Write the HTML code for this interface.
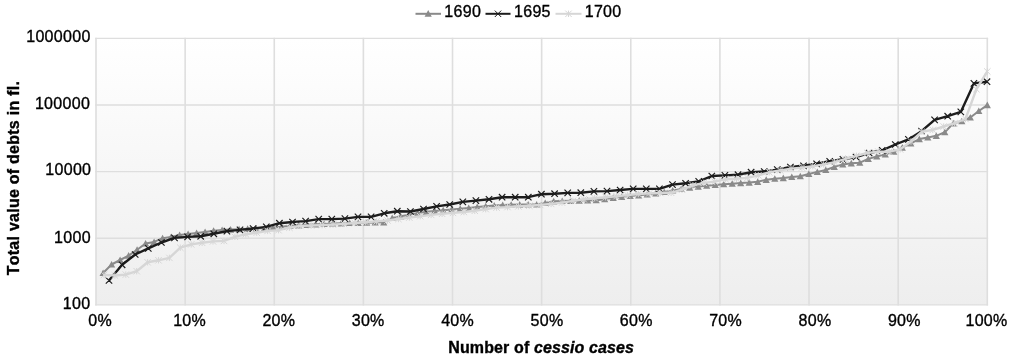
<!DOCTYPE html>
<html><head><meta charset="utf-8"><title>Chart</title><style>html,body{margin:0;padding:0;background:#fff}body{width:1012px;height:361px;position:relative;overflow:hidden;font-family:"Liberation Sans",sans-serif}</style></head><body>
<svg width="1012" height="361" viewBox="0 0 1012 361" style="position:absolute;left:0;top:0;will-change:transform">
<defs><linearGradient id="g" x1="0" y1="0" x2="0" y2="1"><stop offset="0" stop-color="#ffffff"/><stop offset="1" stop-color="#eeeeee"/></linearGradient><clipPath id="cp"><rect x="90.0" y="32.4" width="903.3" height="278.5"/></clipPath></defs>
<rect x="0" y="0" width="1012" height="361" fill="#fff"/>
<rect x="96.0" y="38.4" width="891.3" height="266.5" fill="url(#g)"/>
<path d="M96.00 37.7V305.6M185.13 37.7V305.6M274.26 37.7V305.6M363.39 37.7V305.6M452.52 37.7V305.6M541.65 37.7V305.6M630.78 37.7V305.6M719.91 37.7V305.6M809.04 37.7V305.6M898.17 37.7V305.6M987.30 37.7V305.6" stroke="#dedede" stroke-width="1.6" fill="none"/>
<path d="M95.2 38.40H988.1M95.2 105.03H988.1M95.2 171.65H988.1M95.2 238.28H988.1M95.2 304.90H988.1" stroke="#dedede" stroke-width="1.4" fill="none"/>
<g>
<path d="M103.1 273.0L111.6 264.5L120.1 260.0L128.6 255.6L137.1 249.7L145.6 243.5L154.1 241.9L162.6 238.2L171.1 236.9L179.6 235.1L188.1 234.0L196.6 232.9L205.1 231.9L213.6 230.7L222.1 230.1L230.6 229.6L239.1 229.2L247.6 228.8L256.1 228.4L264.6 228.0L273.1 227.8L281.6 226.8L290.1 225.8L298.6 225.3L307.1 224.8L315.6 224.3L324.1 223.9L332.7 223.6L341.2 223.3L349.7 223.0L358.2 222.8L366.7 222.7L375.2 222.5L383.7 222.3L392.2 217.9L400.7 216.3L409.2 214.7L417.7 213.1L426.2 211.8L434.7 211.0L443.2 210.2L451.7 209.4L460.2 208.7L468.7 208.0L477.2 207.1L485.7 206.3L494.2 205.6L502.7 205.0L511.2 204.7L519.7 204.6L528.2 204.5L536.7 204.4L545.2 203.0L553.7 201.3L562.2 200.9L570.7 200.8L579.2 200.6L587.7 200.4L596.2 200.2L604.7 199.2L613.2 197.8L621.7 196.8L630.2 196.0L638.7 195.3L647.2 194.5L655.7 193.3L664.2 191.9L672.7 190.5L681.2 189.0L689.7 187.6L698.2 186.6L706.7 185.7L715.2 184.9L723.7 184.2L732.2 183.7L740.7 183.1L749.2 182.6L757.7 181.8L766.2 179.8L774.8 178.7L783.3 178.1L791.8 177.0L800.3 176.2L808.8 174.0L817.3 171.9L825.8 170.0L834.3 166.9L842.8 164.4L851.3 163.3L859.8 162.7L868.3 158.9L876.8 156.5L885.3 154.3L893.8 151.7L902.3 147.6L910.8 143.3L919.3 139.1L927.8 137.5L936.3 135.8L944.8 132.2L953.3 123.3L961.8 121.2L970.3 117.5L978.8 111.0L987.3 105.1" stroke="#8a8a8a" stroke-width="2" fill="none" stroke-linejoin="round"/>
<path d="M103.1 269.5L106.7 276.1L99.5 276.1ZM111.6 261.0L115.2 267.6L108.0 267.6ZM120.1 256.5L123.7 263.1L116.5 263.1ZM128.6 252.1L132.2 258.7L125.0 258.7ZM137.1 246.2L140.7 252.8L133.5 252.8ZM145.6 240.0L149.2 246.6L142.0 246.6ZM154.1 238.4L157.7 245.0L150.5 245.0ZM162.6 234.7L166.2 241.3L159.0 241.3ZM171.1 233.4L174.7 240.0L167.5 240.0ZM179.6 231.6L183.2 238.2L176.0 238.2ZM188.1 230.5L191.7 237.1L184.5 237.1ZM196.6 229.4L200.2 236.0L193.0 236.0ZM205.1 228.4L208.7 235.0L201.5 235.0ZM213.6 227.2L217.2 233.8L210.0 233.8ZM222.1 226.6L225.7 233.2L218.5 233.2ZM230.6 226.1L234.2 232.7L227.0 232.7ZM239.1 225.7L242.7 232.3L235.5 232.3ZM247.6 225.3L251.2 231.9L244.0 231.9ZM256.1 224.9L259.7 231.5L252.5 231.5ZM264.6 224.5L268.2 231.1L261.0 231.1ZM273.1 224.3L276.7 230.9L269.5 230.9ZM281.6 223.3L285.2 229.9L278.0 229.9ZM290.1 222.3L293.7 228.9L286.5 228.9ZM298.6 221.8L302.2 228.4L295.0 228.4ZM307.1 221.3L310.7 227.9L303.5 227.9ZM315.6 220.8L319.2 227.4L312.0 227.4ZM324.1 220.4L327.8 227.0L320.5 227.0ZM332.7 220.1L336.3 226.7L329.1 226.7ZM341.2 219.8L344.8 226.4L337.6 226.4ZM349.7 219.5L353.3 226.1L346.1 226.1ZM358.2 219.3L361.8 225.9L354.6 225.9ZM366.7 219.2L370.3 225.8L363.1 225.8ZM375.2 219.0L378.8 225.6L371.6 225.6ZM383.7 218.8L387.3 225.4L380.1 225.4ZM392.2 214.4L395.8 221.0L388.6 221.0ZM400.7 212.8L404.3 219.4L397.1 219.4ZM409.2 211.2L412.8 217.8L405.6 217.8ZM417.7 209.6L421.3 216.2L414.1 216.2ZM426.2 208.3L429.8 214.9L422.6 214.9ZM434.7 207.5L438.3 214.1L431.1 214.1ZM443.2 206.7L446.8 213.3L439.6 213.3ZM451.7 205.9L455.3 212.5L448.1 212.5ZM460.2 205.2L463.8 211.8L456.6 211.8ZM468.7 204.5L472.3 211.1L465.1 211.1ZM477.2 203.6L480.8 210.2L473.6 210.2ZM485.7 202.8L489.3 209.4L482.1 209.4ZM494.2 202.1L497.8 208.7L490.6 208.7ZM502.7 201.5L506.3 208.1L499.1 208.1ZM511.2 201.2L514.8 207.8L507.6 207.8ZM519.7 201.1L523.3 207.7L516.1 207.7ZM528.2 201.0L531.8 207.6L524.6 207.6ZM536.7 200.9L540.3 207.5L533.1 207.5ZM545.2 199.5L548.8 206.1L541.6 206.1ZM553.7 197.8L557.3 204.4L550.1 204.4ZM562.2 197.4L565.8 204.0L558.6 204.0ZM570.7 197.3L574.3 203.9L567.1 203.9ZM579.2 197.1L582.8 203.7L575.6 203.7ZM587.7 196.9L591.3 203.5L584.1 203.5ZM596.2 196.7L599.8 203.3L592.6 203.3ZM604.7 195.7L608.3 202.3L601.1 202.3ZM613.2 194.3L616.8 200.9L609.6 200.9ZM621.7 193.3L625.3 199.9L618.1 199.9ZM630.2 192.5L633.8 199.1L626.6 199.1ZM638.7 191.8L642.3 198.4L635.1 198.4ZM647.2 191.0L650.8 197.6L643.6 197.6ZM655.7 189.8L659.3 196.4L652.1 196.4ZM664.2 188.4L667.8 195.0L660.6 195.0ZM672.7 187.0L676.3 193.6L669.1 193.6ZM681.2 185.5L684.8 192.1L677.6 192.1ZM689.7 184.1L693.3 190.7L686.1 190.7ZM698.2 183.1L701.8 189.7L694.6 189.7ZM706.7 182.2L710.3 188.8L703.1 188.8ZM715.2 181.4L718.8 188.0L711.6 188.0ZM723.7 180.7L727.3 187.3L720.1 187.3ZM732.2 180.2L735.8 186.8L728.6 186.8ZM740.7 179.6L744.3 186.2L737.1 186.2ZM749.2 179.1L752.8 185.7L745.6 185.7ZM757.7 178.3L761.3 184.9L754.1 184.9ZM766.2 176.3L769.8 182.9L762.6 182.9ZM774.8 175.2L778.4 181.8L771.2 181.8ZM783.3 174.6L786.9 181.2L779.7 181.2ZM791.8 173.5L795.4 180.1L788.2 180.1ZM800.3 172.7L803.9 179.3L796.7 179.3ZM808.8 170.5L812.4 177.1L805.2 177.1ZM817.3 168.4L820.9 175.0L813.7 175.0ZM825.8 166.5L829.4 173.1L822.2 173.1ZM834.3 163.4L837.9 170.0L830.7 170.0ZM842.8 160.9L846.4 167.5L839.2 167.5ZM851.3 159.8L854.9 166.4L847.7 166.4ZM859.8 159.2L863.4 165.8L856.2 165.8ZM868.3 155.4L871.9 162.0L864.7 162.0ZM876.8 153.0L880.4 159.6L873.2 159.6ZM885.3 150.8L888.9 157.4L881.7 157.4ZM893.8 148.2L897.4 154.8L890.2 154.8ZM902.3 144.1L905.9 150.7L898.7 150.7ZM910.8 139.8L914.4 146.4L907.2 146.4ZM919.3 135.6L922.9 142.2L915.7 142.2ZM927.8 134.0L931.4 140.6L924.2 140.6ZM936.3 132.3L939.9 138.9L932.7 138.9ZM944.8 128.7L948.4 135.3L941.2 135.3ZM953.3 119.8L956.9 126.4L949.7 126.4ZM961.8 117.7L965.4 124.3L958.2 124.3ZM970.3 114.0L973.9 120.6L966.7 120.6ZM978.8 107.5L982.4 114.1L975.2 114.1ZM987.3 101.6L990.9 108.2L983.7 108.2Z" fill="#8a8a8a"/>
<path d="M109.0 280.5L122.1 264.8L135.2 254.5L148.3 248.4L161.4 242.5L174.5 237.9L187.6 236.9L200.7 236.3L213.8 233.8L226.9 231.1L240.0 229.9L253.1 228.5L266.3 226.9L279.4 223.2L292.5 222.0L305.6 221.1L318.7 219.1L331.8 219.1L344.9 218.6L358.0 216.9L371.1 216.9L384.2 213.3L397.3 211.2L410.4 211.5L423.5 209.0L436.6 206.4L449.7 204.5L462.8 201.9L475.9 200.6L489.0 199.3L502.1 197.2L515.2 197.2L528.3 197.2L541.4 194.2L554.6 193.7L567.7 192.9L580.8 192.7L593.9 191.4L607.0 191.1L620.1 190.0L633.2 188.9L646.3 188.9L659.4 188.9L672.5 184.6L685.6 183.3L698.7 181.4L711.8 176.0L724.9 175.4L738.0 174.7L751.1 172.2L764.2 171.5L777.3 169.6L790.4 167.0L803.5 165.8L816.6 163.8L829.7 161.3L842.9 159.3L856.0 157.0L869.1 153.0L882.2 150.3L895.3 144.5L908.4 139.4L921.5 131.2L934.6 119.9L947.7 116.2L960.8 111.9L973.9 83.4L987.0 81.7" stroke="#1c1c1c" stroke-width="2.4" fill="none" stroke-linejoin="round"/>
<path d="M105.8 277.3L112.2 283.7M105.8 283.7L112.2 277.3M118.9 261.6L125.3 268.0M118.9 268.0L125.3 261.6M132.0 251.3L138.4 257.7M132.0 257.7L138.4 251.3M145.1 245.2L151.5 251.6M145.1 251.6L151.5 245.2M158.2 239.3L164.6 245.7M158.2 245.7L164.6 239.3M171.3 234.7L177.7 241.1M171.3 241.1L177.7 234.7M184.4 233.7L190.8 240.1M184.4 240.1L190.8 233.7M197.5 233.1L203.9 239.5M197.5 239.5L203.9 233.1M210.6 230.6L217.0 237.0M210.6 237.0L217.0 230.6M223.7 227.9L230.1 234.3M223.7 234.3L230.1 227.9M236.8 226.7L243.2 233.1M236.8 233.1L243.2 226.7M249.9 225.3L256.3 231.7M249.9 231.7L256.3 225.3M263.1 223.7L269.5 230.1M263.1 230.1L269.5 223.7M276.2 220.0L282.6 226.4M276.2 226.4L282.6 220.0M289.3 218.8L295.7 225.2M289.3 225.2L295.7 218.8M302.4 217.9L308.8 224.3M302.4 224.3L308.8 217.9M315.5 215.9L321.9 222.3M315.5 222.3L321.9 215.9M328.6 215.9L335.0 222.3M328.6 222.3L335.0 215.9M341.7 215.4L348.1 221.8M341.7 221.8L348.1 215.4M354.8 213.7L361.2 220.1M354.8 220.1L361.2 213.7M367.9 213.7L374.3 220.1M367.9 220.1L374.3 213.7M381.0 210.1L387.4 216.5M381.0 216.5L387.4 210.1M394.1 208.0L400.5 214.4M394.1 214.4L400.5 208.0M407.2 208.3L413.6 214.7M407.2 214.7L413.6 208.3M420.3 205.8L426.7 212.2M420.3 212.2L426.7 205.8M433.4 203.2L439.8 209.6M433.4 209.6L439.8 203.2M446.5 201.3L452.9 207.7M446.5 207.7L452.9 201.3M459.6 198.7L466.0 205.1M459.6 205.1L466.0 198.7M472.7 197.4L479.1 203.8M472.7 203.8L479.1 197.4M485.8 196.1L492.2 202.5M485.8 202.5L492.2 196.1M498.9 194.0L505.3 200.4M498.9 200.4L505.3 194.0M512.0 194.0L518.4 200.4M512.0 200.4L518.4 194.0M525.1 194.0L531.5 200.4M525.1 200.4L531.5 194.0M538.2 191.0L544.6 197.4M538.2 197.4L544.6 191.0M551.4 190.5L557.8 196.9M551.4 196.9L557.8 190.5M564.5 189.7L570.9 196.1M564.5 196.1L570.9 189.7M577.6 189.5L584.0 195.9M577.6 195.9L584.0 189.5M590.7 188.2L597.1 194.6M590.7 194.6L597.1 188.2M603.8 187.9L610.2 194.3M603.8 194.3L610.2 187.9M616.9 186.8L623.3 193.2M616.9 193.2L623.3 186.8M630.0 185.7L636.4 192.1M630.0 192.1L636.4 185.7M643.1 185.7L649.5 192.1M643.1 192.1L649.5 185.7M656.2 185.7L662.6 192.1M656.2 192.1L662.6 185.7M669.3 181.4L675.7 187.8M669.3 187.8L675.7 181.4M682.4 180.1L688.8 186.5M682.4 186.5L688.8 180.1M695.5 178.2L701.9 184.6M695.5 184.6L701.9 178.2M708.6 172.8L715.0 179.2M708.6 179.2L715.0 172.8M721.7 172.2L728.1 178.6M721.7 178.6L728.1 172.2M734.8 171.5L741.2 177.9M734.8 177.9L741.2 171.5M747.9 169.0L754.3 175.4M747.9 175.4L754.3 169.0M761.0 168.3L767.4 174.7M761.0 174.7L767.4 168.3M774.1 166.4L780.5 172.8M774.1 172.8L780.5 166.4M787.2 163.8L793.6 170.2M787.2 170.2L793.6 163.8M800.3 162.6L806.7 169.0M800.3 169.0L806.7 162.6M813.4 160.6L819.8 167.0M813.4 167.0L819.8 160.6M826.5 158.1L832.9 164.5M826.5 164.5L832.9 158.1M839.7 156.1L846.1 162.5M839.7 162.5L846.1 156.1M852.8 153.8L859.2 160.2M852.8 160.2L859.2 153.8M865.9 149.8L872.3 156.2M865.9 156.2L872.3 149.8M879.0 147.1L885.4 153.5M879.0 153.5L885.4 147.1M892.1 141.3L898.5 147.7M892.1 147.7L898.5 141.3M905.2 136.2L911.6 142.6M905.2 142.6L911.6 136.2M918.3 128.0L924.7 134.4M918.3 134.4L924.7 128.0M931.4 116.7L937.8 123.1M931.4 123.1L937.8 116.7M944.5 113.0L950.9 119.4M944.5 119.4L950.9 113.0M957.6 108.7L964.0 115.1M957.6 115.1L964.0 108.7M970.7 80.2L977.1 86.6M970.7 86.6L977.1 80.2M983.8 78.5L990.2 84.9M983.8 84.9L990.2 78.5" stroke="#1c1c1c" stroke-width="1.2" fill="none"/>
<path d="M104.0 274.9L114.9 275.5L125.8 274.6L136.7 271.2L147.6 262.3L158.5 260.3L169.4 257.9L180.3 247.7L191.2 244.4L202.1 242.8L213.0 241.4L224.0 240.9L234.9 236.8L245.8 234.2L256.7 232.7L267.6 230.9L278.5 230.2L289.4 227.7L300.3 225.9L311.2 225.5L322.1 225.1L333.0 224.6L343.9 223.9L354.8 223.0L365.7 222.2L376.6 221.4L387.5 220.5L398.4 219.0L409.3 217.6L420.2 216.2L431.1 214.9L442.1 213.8L453.0 212.9L463.9 212.0L474.8 210.8L485.7 209.1L496.6 207.6L507.5 207.1L518.4 206.4L529.3 205.7L540.2 205.0L551.1 203.9L562.0 202.6L572.9 200.9L583.8 199.3L594.7 198.2L605.6 197.2L616.5 196.2L627.4 195.1L638.3 194.0L649.2 193.4L660.2 193.0L671.1 192.8L682.0 189.7L692.9 185.4L703.8 182.9L714.7 181.6L725.6 179.2L736.5 178.8L747.4 177.9L758.3 175.4L769.2 172.3L780.1 170.4L791.0 168.6L801.9 167.6L812.8 166.2L823.7 164.4L834.6 162.1L845.5 158.9L856.4 155.8L867.3 153.0L878.3 151.6L889.2 151.7L900.1 149.4L911.0 141.5L921.9 131.7L932.8 129.9L943.7 126.5L954.6 123.2L965.5 119.0L976.4 89.2L987.3 71.5" stroke="#d6d6d6" stroke-width="2.4" fill="none" stroke-linejoin="round"/>
<path d="M100.8 271.7L107.2 278.1M100.8 278.1L107.2 271.7M104.0 271.7L104.0 278.1M111.7 272.3L118.1 278.7M111.7 278.7L118.1 272.3M114.9 272.3L114.9 278.7M122.6 271.4L129.0 277.8M122.6 277.8L129.0 271.4M125.8 271.4L125.8 277.8M133.5 268.0L139.9 274.4M133.5 274.4L139.9 268.0M136.7 268.0L136.7 274.4M144.4 259.1L150.8 265.5M144.4 265.5L150.8 259.1M147.6 259.1L147.6 265.5M155.3 257.1L161.7 263.5M155.3 263.5L161.7 257.1M158.5 257.1L158.5 263.5M166.2 254.7L172.6 261.1M166.2 261.1L172.6 254.7M169.4 254.7L169.4 261.1M177.1 244.5L183.5 250.9M177.1 250.9L183.5 244.5M180.3 244.5L180.3 250.9M188.0 241.2L194.4 247.6M188.0 247.6L194.4 241.2M191.2 241.2L191.2 247.6M198.9 239.6L205.3 246.0M198.9 246.0L205.3 239.6M202.1 239.6L202.1 246.0M209.8 238.2L216.2 244.6M209.8 244.6L216.2 238.2M213.0 238.2L213.0 244.6M220.8 237.7L227.2 244.1M220.8 244.1L227.2 237.7M224.0 237.7L224.0 244.1M231.7 233.6L238.1 240.0M231.7 240.0L238.1 233.6M234.9 233.6L234.9 240.0M242.6 231.0L249.0 237.4M242.6 237.4L249.0 231.0M245.8 231.0L245.8 237.4M253.5 229.5L259.9 235.9M253.5 235.9L259.9 229.5M256.7 229.5L256.7 235.9M264.4 227.7L270.8 234.1M264.4 234.1L270.8 227.7M267.6 227.7L267.6 234.1M275.3 227.0L281.7 233.4M275.3 233.4L281.7 227.0M278.5 227.0L278.5 233.4M286.2 224.5L292.6 230.9M286.2 230.9L292.6 224.5M289.4 224.5L289.4 230.9M297.1 222.7L303.5 229.1M297.1 229.1L303.5 222.7M300.3 222.7L300.3 229.1M308.0 222.3L314.4 228.7M308.0 228.7L314.4 222.3M311.2 222.3L311.2 228.7M318.9 221.9L325.3 228.3M318.9 228.3L325.3 221.9M322.1 221.9L322.1 228.3M329.8 221.4L336.2 227.8M329.8 227.8L336.2 221.4M333.0 221.4L333.0 227.8M340.7 220.7L347.1 227.1M340.7 227.1L347.1 220.7M343.9 220.7L343.9 227.1M351.6 219.8L358.0 226.2M351.6 226.2L358.0 219.8M354.8 219.8L354.8 226.2M362.5 219.0L368.9 225.4M362.5 225.4L368.9 219.0M365.7 219.0L365.7 225.4M373.4 218.2L379.8 224.6M373.4 224.6L379.8 218.2M376.6 218.2L376.6 224.6M384.3 217.3L390.7 223.7M384.3 223.7L390.7 217.3M387.5 217.3L387.5 223.7M395.2 215.8L401.6 222.2M395.2 222.2L401.6 215.8M398.4 215.8L398.4 222.2M406.1 214.4L412.5 220.8M406.1 220.8L412.5 214.4M409.3 214.4L409.3 220.8M417.0 213.0L423.4 219.4M417.0 219.4L423.4 213.0M420.2 213.0L420.2 219.4M427.9 211.7L434.3 218.1M427.9 218.1L434.3 211.7M431.1 211.7L431.1 218.1M438.9 210.6L445.3 217.0M438.9 217.0L445.3 210.6M442.1 210.6L442.1 217.0M449.8 209.7L456.2 216.1M449.8 216.1L456.2 209.7M453.0 209.7L453.0 216.1M460.7 208.8L467.1 215.2M460.7 215.2L467.1 208.8M463.9 208.8L463.9 215.2M471.6 207.6L478.0 214.0M471.6 214.0L478.0 207.6M474.8 207.6L474.8 214.0M482.5 205.9L488.9 212.3M482.5 212.3L488.9 205.9M485.7 205.9L485.7 212.3M493.4 204.4L499.8 210.8M493.4 210.8L499.8 204.4M496.6 204.4L496.6 210.8M504.3 203.9L510.7 210.3M504.3 210.3L510.7 203.9M507.5 203.9L507.5 210.3M515.2 203.2L521.6 209.6M515.2 209.6L521.6 203.2M518.4 203.2L518.4 209.6M526.1 202.5L532.5 208.9M526.1 208.9L532.5 202.5M529.3 202.5L529.3 208.9M537.0 201.8L543.4 208.2M537.0 208.2L543.4 201.8M540.2 201.8L540.2 208.2M547.9 200.7L554.3 207.1M547.9 207.1L554.3 200.7M551.1 200.7L551.1 207.1M558.8 199.4L565.2 205.8M558.8 205.8L565.2 199.4M562.0 199.4L562.0 205.8M569.7 197.7L576.1 204.1M569.7 204.1L576.1 197.7M572.9 197.7L572.9 204.1M580.6 196.1L587.0 202.5M580.6 202.5L587.0 196.1M583.8 196.1L583.8 202.5M591.5 195.0L597.9 201.4M591.5 201.4L597.9 195.0M594.7 195.0L594.7 201.4M602.4 194.0L608.8 200.4M602.4 200.4L608.8 194.0M605.6 194.0L605.6 200.4M613.3 193.0L619.7 199.4M613.3 199.4L619.7 193.0M616.5 193.0L616.5 199.4M624.2 191.9L630.6 198.3M624.2 198.3L630.6 191.9M627.4 191.9L627.4 198.3M635.1 190.8L641.5 197.2M635.1 197.2L641.5 190.8M638.3 190.8L638.3 197.2M646.0 190.2L652.4 196.6M646.0 196.6L652.4 190.2M649.2 190.2L649.2 196.6M657.0 189.8L663.4 196.2M657.0 196.2L663.4 189.8M660.2 189.8L660.2 196.2M667.9 189.6L674.3 196.0M667.9 196.0L674.3 189.6M671.1 189.6L671.1 196.0M678.8 186.5L685.2 192.9M678.8 192.9L685.2 186.5M682.0 186.5L682.0 192.9M689.7 182.2L696.1 188.6M689.7 188.6L696.1 182.2M692.9 182.2L692.9 188.6M700.6 179.7L707.0 186.1M700.6 186.1L707.0 179.7M703.8 179.7L703.8 186.1M711.5 178.4L717.9 184.8M711.5 184.8L717.9 178.4M714.7 178.4L714.7 184.8M722.4 176.0L728.8 182.4M722.4 182.4L728.8 176.0M725.6 176.0L725.6 182.4M733.3 175.6L739.7 182.0M733.3 182.0L739.7 175.6M736.5 175.6L736.5 182.0M744.2 174.7L750.6 181.1M744.2 181.1L750.6 174.7M747.4 174.7L747.4 181.1M755.1 172.2L761.5 178.6M755.1 178.6L761.5 172.2M758.3 172.2L758.3 178.6M766.0 169.1L772.4 175.5M766.0 175.5L772.4 169.1M769.2 169.1L769.2 175.5M776.9 167.2L783.3 173.6M776.9 173.6L783.3 167.2M780.1 167.2L780.1 173.6M787.8 165.4L794.2 171.8M787.8 171.8L794.2 165.4M791.0 165.4L791.0 171.8M798.7 164.4L805.1 170.8M798.7 170.8L805.1 164.4M801.9 164.4L801.9 170.8M809.6 163.0L816.0 169.4M809.6 169.4L816.0 163.0M812.8 163.0L812.8 169.4M820.5 161.2L826.9 167.6M820.5 167.6L826.9 161.2M823.7 161.2L823.7 167.6M831.4 158.9L837.8 165.3M831.4 165.3L837.8 158.9M834.6 158.9L834.6 165.3M842.3 155.7L848.7 162.1M842.3 162.1L848.7 155.7M845.5 155.7L845.5 162.1M853.2 152.6L859.6 159.0M853.2 159.0L859.6 152.6M856.4 152.6L856.4 159.0M864.1 149.8L870.5 156.2M864.1 156.2L870.5 149.8M867.3 149.8L867.3 156.2M875.1 148.4L881.5 154.8M875.1 154.8L881.5 148.4M878.3 148.4L878.3 154.8M886.0 148.5L892.4 154.9M886.0 154.9L892.4 148.5M889.2 148.5L889.2 154.9M896.9 146.2L903.3 152.6M896.9 152.6L903.3 146.2M900.1 146.2L900.1 152.6M907.8 138.3L914.2 144.7M907.8 144.7L914.2 138.3M911.0 138.3L911.0 144.7M918.7 128.5L925.1 134.9M918.7 134.9L925.1 128.5M921.9 128.5L921.9 134.9M929.6 126.7L936.0 133.1M929.6 133.1L936.0 126.7M932.8 126.7L932.8 133.1M940.5 123.3L946.9 129.7M940.5 129.7L946.9 123.3M943.7 123.3L943.7 129.7M951.4 120.0L957.8 126.4M951.4 126.4L957.8 120.0M954.6 120.0L954.6 126.4M962.3 115.8L968.7 122.2M962.3 122.2L968.7 115.8M965.5 115.8L965.5 122.2M973.2 86.0L979.6 92.4M973.2 92.4L979.6 86.0M976.4 86.0L976.4 92.4M984.1 68.3L990.5 74.7M984.1 74.7L990.5 68.3M987.3 68.3L987.3 74.7" stroke="#d6d6d6" stroke-width="1" fill="none"/>
</g>
<path d="M415.5 13.8H441" stroke="#8a8a8a" stroke-width="2"/><path d="M428.2 10.1L431.8 16.7L424.6 16.7Z" fill="#8a8a8a"/>
<path d="M485.5 13.8H510.5" stroke="#1c1c1c" stroke-width="2"/><path d="M494.8 10.6L501.2 17.0M494.8 17.0L501.2 10.6" stroke="#1c1c1c" stroke-width="1" fill="none"/>
<path d="M555.5 13.8H581.5" stroke="#d6d6d6" stroke-width="2"/><path d="M565.3 10.6L571.7 17.0M565.3 17.0L571.7 10.6M568.5 10.6L568.5 17.0" stroke="#d6d6d6" stroke-width="1" fill="none"/>
<g font-family="Liberation Sans, sans-serif" font-size="16px" fill="#000" stroke="#000" stroke-width="0.35" letter-spacing="0.3">
<text x="444.3" y="17.2">1690</text>
<text x="514.0" y="17.2">1695</text>
<text x="584.7" y="17.2">1700</text>
<text x="90.6" y="41.6" text-anchor="end">1000000</text>
<text x="90.1" y="109.2" text-anchor="end">100000</text>
<text x="91.3" y="174.8" text-anchor="end">10000</text>
<text x="90.9" y="242.5" text-anchor="end">1000</text>
<text x="90.4" y="308.9" text-anchor="end">100</text>
<text x="100.2" y="326.2" text-anchor="middle">0%</text>
<text x="189.6" y="326.2" text-anchor="middle">10%</text>
<text x="278.9" y="326.2" text-anchor="middle">20%</text>
<text x="368.2" y="326.2" text-anchor="middle">30%</text>
<text x="457.6" y="326.2" text-anchor="middle">40%</text>
<text x="547.0" y="326.2" text-anchor="middle">50%</text>
<text x="636.3" y="326.2" text-anchor="middle">60%</text>
<text x="725.6" y="326.2" text-anchor="middle">70%</text>
<text x="815.0" y="326.2" text-anchor="middle">80%</text>
<text x="904.4" y="326.2" text-anchor="middle">90%</text>
<text x="1007.6" y="326.2" text-anchor="end">100%</text>
<text id="xt" x="448.3" y="352.8" font-weight="bold" textLength="186" lengthAdjust="spacing">Number of <tspan font-style="italic">cessio cases</tspan></text>
<text id="yt" font-kerning="none" style="font-kerning:none" transform="translate(18.9 275.3) rotate(-90)" font-weight="bold" textLength="194.5" lengthAdjust="spacing">Total value of debts in fl.</text>
</g></svg>
</body></html>
